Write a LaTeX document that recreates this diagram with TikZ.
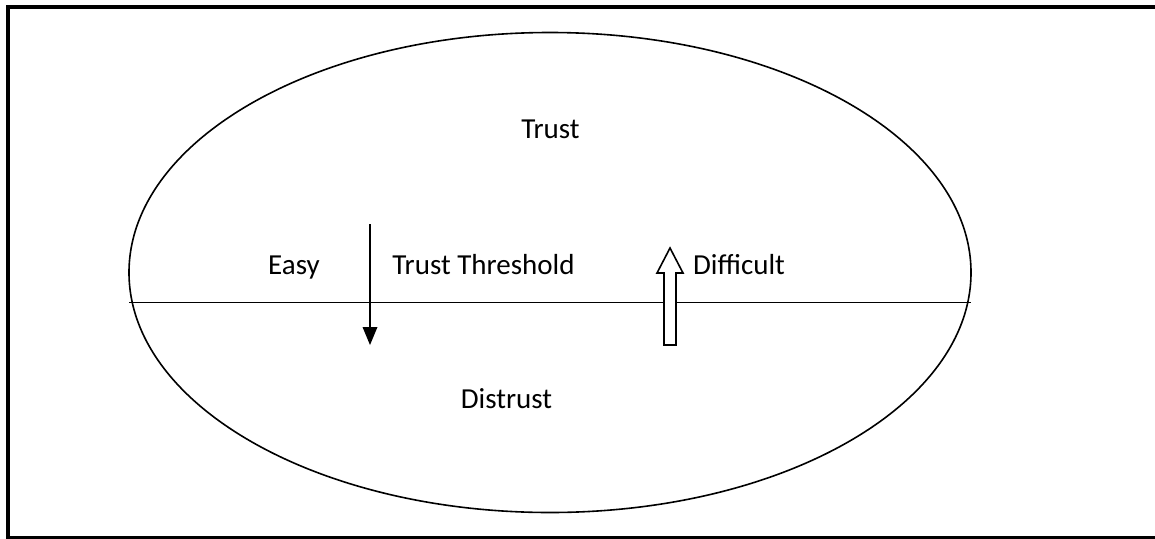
\documentclass[tikz,border=0pt]{standalone}
\usepackage{fontspec}
\setmainfont{Carlito}
\usetikzlibrary{shapes.geometric}
\begin{document}
\begin{tikzpicture}[x=1pt,y=-1pt,
  label/.style={font=\fontsize{29}{33}\selectfont, anchor=base, inner sep=0pt},
  thin line/.style={line width=1.6pt, black}]
\fill[white] (0,0) rectangle (1155,538);
\useasboundingbox (0,0) rectangle (1155,538);
\begin{scope}
  \clip (0,0) rectangle (1155,538);
  % outer frame, open on the right and running off the bottom edge
  \draw[line width=4.2pt, line join=miter] (1180,7) -- (8,7) -- (8,538.5) -- (1180,538.5);
\end{scope}
% trust region
\node[draw, thin line, ellipse, minimum width=842pt, minimum height=480pt, inner sep=0pt] (zone) at (550,272.5) {};
% threshold line
\coordinate (thL) at (129,302.5);
\coordinate (thR) at (971,302.5);
\draw[thin line] (thL) -- (thR);
% easy: thin arrow down
\coordinate (easyTop) at (370,224);
\coordinate (easyTip) at (370,345);
\draw[thin line] (easyTop) -- (370,330);
\fill (easyTip) -- (362.5,327) -- (377.5,327) -- cycle;
% difficult: hollow block arrow up
\coordinate (diffTip) at (670,248);
\draw[thin line, fill=white, line join=miter]
  (diffTip) -- (683,273) -- (676,273) -- (676,345) -- (664,345) -- (664,273) -- (657,273) -- cycle;
% labels
\node[label] (trust) at (550.5,138) {Trust};
\node[label] (easy) at (294,274) {Easy};
\node[label] (threshold) at (483.5,274) {Trust Threshold};
\node[label] (difficult) at (739,274) {Difficult};
\node[label] (distrust) at (506.5,408) {Distrust};
\end{tikzpicture}
\end{document}
